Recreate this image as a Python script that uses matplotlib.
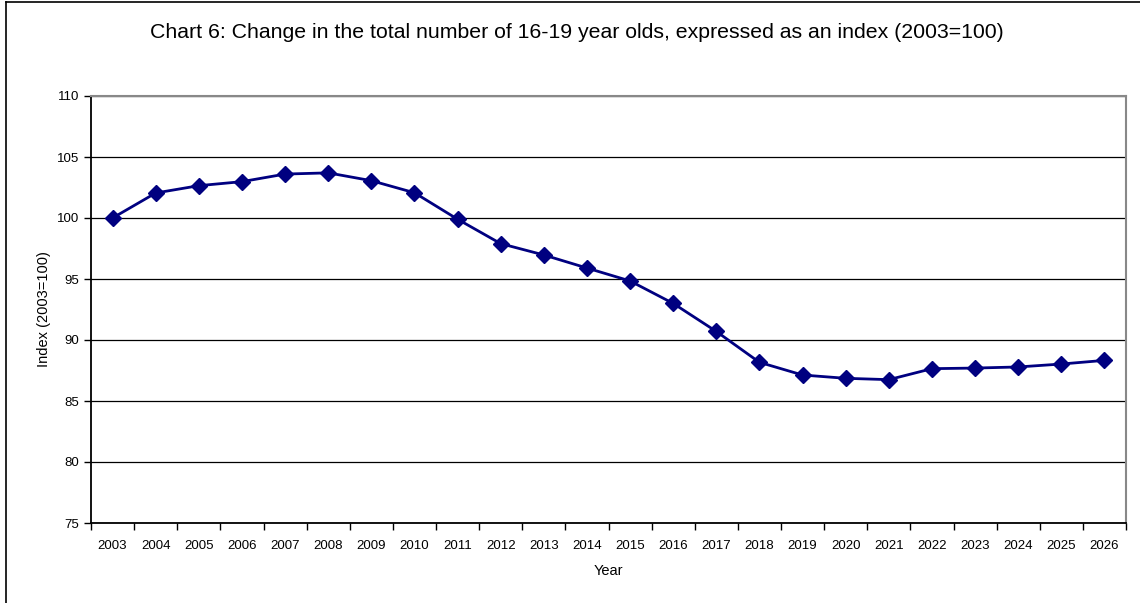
import matplotlib.pyplot as plt
import numpy as np

plt.rcParams['font.family'] = ['Liberation Sans', 'DejaVu Sans']

# index of 16-19 year olds, 2003 = 100
years = [str(y) for y in range(2003, 2027)]
index = [100.0, 102.05, 102.65, 102.98, 103.6, 103.7, 103.06, 102.07, 99.9, 97.9,
         96.97, 95.9, 94.84, 93.0, 90.7, 88.17, 87.13, 86.86, 86.75, 87.65,
         87.7, 87.79, 88.03, 88.33]

fig = plt.figure(figsize=(11.4, 6.03), dpi=100)
ax = fig.add_axes([91/1140, 1 - 523/603, (1126 - 91)/1140, (523 - 96)/603])

x = np.arange(len(years))
ax.plot(x, index, color='#000080', lw=2, marker='D', ms=8, mec='#000080', mfc='#000080', zorder=3)

ax.set_xlim(-0.5, len(years) - 0.5)
ax.set_ylim(75, 110)
ax.set_yticks(range(75, 111, 5))
ax.yaxis.grid(True, color='black', lw=0.9)
ax.set_axisbelow(True)

# labels centred on categories, ticks on category boundaries
ax.set_xticks(x)
ax.set_xticklabels(years, fontsize=9.5)
ax.tick_params(axis='x', which='major', length=0, pad=12)
ax.set_xticks(np.arange(-0.5, len(years)), minor=True)
ax.tick_params(axis='x', which='minor', length=5, width=1, direction='out')
ax.tick_params(axis='y', labelsize=9.5, length=5, width=1, direction='out')

for side in ['left', 'bottom']:
    ax.spines[side].set_color('black')
    ax.spines[side].set_linewidth(1.3)
for side in ['top', 'right']:
    ax.spines[side].set_color('#888888')
    ax.spines[side].set_linewidth(1.5)

ax.set_xlabel('Year', fontsize=10.5, labelpad=9)
ax.set_ylabel('Index (2003=100)', fontsize=10.5, labelpad=4)
fig.text(577/1140, 1 - 32/603, 'Chart 6: Change in the total number of 16-19 year olds, expressed as an index (2003=100)',
         ha='center', va='center', fontsize=15.3)

# outer chart frame
fig.add_artist(plt.Line2D([6/1140, 6/1140], [0, 1 - 2/603], color='black', lw=1.2))
fig.add_artist(plt.Line2D([6/1140, 1], [1 - 2/603, 1 - 2/603], color='black', lw=1.2))

fig.savefig('out.png', dpi=100)
